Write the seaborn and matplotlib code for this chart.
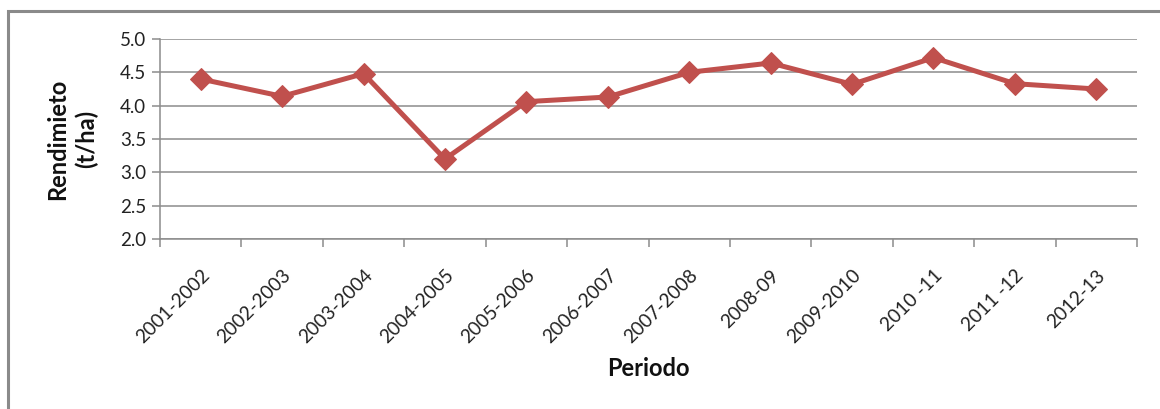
import matplotlib
matplotlib.use("Agg")
import matplotlib.pyplot as plt
import matplotlib.patches as mpatches
import seaborn as sns
import pandas as pd
import numpy as np

periods = ["2001-2002", "2002-2003", "2003-2004", "2004-2005", "2005-2006",
           "2006-2007", "2007-2008", "2008-09", "2009-2010", "2010 -11",
           "2011 -12", "2012-13"]
rendimiento = [4.40, 4.14, 4.48, 3.20, 4.06, 4.13, 4.50, 4.64, 4.32, 4.72, 4.33, 4.25]
y_ticks = [2.0, 2.5, 3.0, 3.5, 4.0, 4.5, 5.0]

sns.set_theme(style="white")
plt.rcParams["font.family"] = ["Lato", "DejaVu Sans"]

df = pd.DataFrame({"Periodo": periods, "Rendimiento": rendimiento})

fig = plt.figure(figsize=(11.6, 4.09), dpi=100)
ax = fig.add_axes([160/1160, 1-239/409, (1137-160)/1160, 200/409])

grid_c = "#8c8c8c"
for yt in y_ticks:
    ax.axhline(yt, color=grid_c, lw=1.1, zorder=0)

sns.lineplot(data=df, x="Periodo", y="Rendimiento", ax=ax, sort=False,
             color="#C0504D", lw=3.6, marker="D", markersize=11,
             markeredgecolor="#C0504D", zorder=3)

ax.set_xlim(-0.5, len(periods) - 0.5)
ax.set_ylim(2.0, 5.0)
ax.set_yticks(y_ticks)
ax.set_yticklabels([f"{v:.1f}" for v in y_ticks], fontsize=13.5, color="#222222")

ax.set_xticks(np.arange(len(periods)))
ax.set_xticklabels(periods, rotation=45, ha="right", rotation_mode="anchor",
                   fontsize=13.8, color="#222222")
ax.set_xticks(np.arange(len(periods) + 1) - 0.5, minor=True)
ax.tick_params(axis="x", which="major", length=0, pad=20)
ax.tick_params(axis="x", which="minor", length=6, width=1.1, color=grid_c, bottom=True)
ax.tick_params(axis="y", which="major", length=6, width=1.1, color=grid_c, left=True, pad=4)

for s in ["top", "right"]:
    ax.spines[s].set_visible(False)
for s in ["left", "bottom"]:
    ax.spines[s].set_color(grid_c)
    ax.spines[s].set_linewidth(1.1)

ax.set_xlabel("Periodo", fontsize=17, fontweight="bold", color="#111111")
ax.xaxis.set_label_coords(0.5, -0.59)
ax.set_ylabel("Rendimieto\n(t/ha)", fontsize=17, fontweight="bold", color="#111111",
              linespacing=1.3)
ax.yaxis.set_label_coords(-0.063, 0.5)

# outer chart frame (partially cropped as in the reference)
frame = mpatches.Rectangle((7.5/1160, -0.1), 1.2, 1-10.5/409 + 0.1,
                           transform=fig.transFigure, fill=False,
                           edgecolor="#8a8a8a", lw=2.2, clip_on=False)
fig.patches.append(frame)

fig.savefig("out.png", dpi=100)
